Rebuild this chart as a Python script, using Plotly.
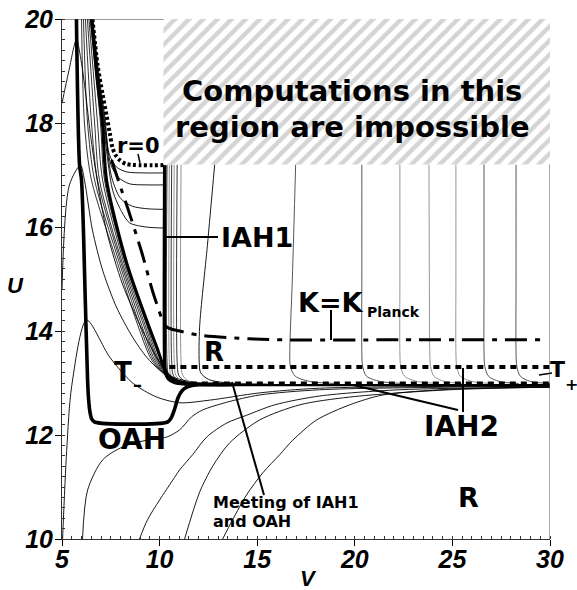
import plotly.graph_objects as go

# ---------------- data (V, U) ----------------
# thick outer apparent horizon (OAH)
OAH_V = [5.74, 5.90, 6.00, 6.20, 6.31, 6.36, 6.43, 6.52, 6.67, 10.41, 10.58, 10.77, 10.95, 11.15, 11.40, 12.05, 13.70]
OAH_U = [20.0, 17.19, 16.90, 14.50, 13.06, 12.70, 12.45, 12.31, 12.25, 12.25, 12.32, 12.50, 12.72, 12.85, 12.92, 12.97, 12.97]

# thick inner apparent horizon 1 (IAH1)
IAH1_V = [10.26, 10.26, 10.30, 10.45, 10.75, 11.30, 13.70]
IAH1_U = [17.19, 13.40, 13.20, 13.08, 13.01, 12.98, 12.97]

# thick inner apparent horizon 2 (IAH2)
IAH2_V = [13.7, 30.0]
IAH2_U = [12.96, 12.96]

# thick diagonal curve
DIAG_V = [6.51, 6.82, 7.08, 7.28, 8.31, 9.33, 9.85, 10.36, 10.77, 11.54, 13.70]
DIAG_U = [20.0, 18.79, 17.96, 16.90, 15.31, 14.21, 13.69, 13.19, 13.06, 12.98, 12.97]

# r = 0 (dotted)
R0_V = [6.56, 6.82, 7.08, 7.28, 7.45, 7.59, 7.75, 7.95, 8.31, 10.20]
R0_U = [20.0, 19.12, 18.55, 18.15, 17.80, 17.52, 17.38, 17.29, 17.21, 17.19]

# K = K_Planck (dash-dot)
K_V = [7.54, 8.05, 8.36, 9.08, 9.74, 10.36, 11.03, 12.05, 14.62, 16.31, 22.30, 29.64]
K_U = [17.29, 16.71, 16.37, 15.52, 14.65, 14.08, 14.00, 13.92, 13.85, 13.83, 13.83, 13.83]

# T+ (dotted lines)
TP_UP_V = [10.5, 30.0]
TP_UP_U = [13.31, 13.31]
TP_LO_V = [11.6, 30.0]
TP_LO_U = [12.99, 12.99]

# thin r = const contours: tent-shaped curves peaking on the OAH
T1_V = [5.00, 5.35, 5.74, 6.00, 6.20, 6.45, 6.80, 7.30, 8.10, 9.20, 10.00, 10.60, 11.50, 14.00]
T1_U = [18.38, 19.00, 19.60, 19.15, 18.60, 17.80, 16.90, 15.90, 14.90, 13.95, 13.40, 13.10, 12.99, 12.97]
T2_V = [5.00, 5.38, 5.95, 6.15, 6.56, 7.08, 7.79, 8.62, 9.33, 10.00, 10.77, 12.05, 14.00]
T2_U = [14.80, 16.81, 17.19, 16.90, 15.94, 15.17, 14.46, 13.88, 13.50, 13.25, 13.10, 13.00, 12.97]
T3_V = [5.03, 5.24, 5.50, 6.26, 7.44, 8.62, 9.85, 11.03, 12.56, 15.13, 18.20, 30.00]
T3_U = [10.00, 11.70, 12.95, 14.21, 13.50, 13.00, 12.73, 12.62, 12.67, 12.81, 12.90, 12.94]

# thin bundle between OAH and the thick diagonal
BUNDLE_U = [20.0, 18.0, 16.9, 15.3, 14.2, 13.44, 13.12, 12.99, 12.97]
B0_V = [6.00, 6.15, 6.51, 7.85, 8.80, 9.60, 10.40, 11.40, 14.0]
B1_V = [6.10, 6.31, 6.67, 7.95, 8.90, 9.68, 10.42, 11.50, 14.0]
B2_V = [6.20, 6.51, 6.82, 8.03, 9.00, 9.76, 10.44, 11.60, 14.0]
B3_V = [6.30, 6.67, 6.92, 8.10, 9.10, 9.84, 10.46, 11.70, 14.0]
B4_V = [6.38, 6.82, 7.08, 8.18, 9.18, 9.90, 10.48, 11.80, 14.0]
B5_V = [6.45, 6.97, 7.18, 8.25, 9.26, 9.96, 10.50, 11.90, 14.0]

# thin curves turning right towards IAH1
TC1_V = [6.58, 6.90, 7.20, 7.42, 7.80, 8.31, 9.20, 10.26]
TC1_U = [20.0, 18.90, 18.10, 17.40, 17.15, 17.06, 17.04, 17.04]
TC2_V = [6.56, 6.87, 7.16, 7.50, 7.90, 8.46, 9.30, 10.26]
TC2_U = [20.0, 18.90, 18.10, 17.20, 16.95, 16.83, 16.81, 16.81]
TC3_V = [6.55, 6.85, 7.13, 7.55, 8.00, 8.60, 9.40, 10.26]
TC3_U = [20.0, 18.90, 18.10, 16.95, 16.55, 16.40, 16.35, 16.34]
TC4_V = [6.54, 6.84, 7.10, 7.60, 8.05, 8.46, 9.30, 10.26]
TC4_U = [20.0, 18.90, 18.05, 16.70, 16.30, 16.08, 16.00, 15.98]

# thin near-vertical contours right of IAH1
VB_U = [17.2, 13.40, 13.15, 13.03, 12.98]
VB1_V = [10.38, 10.38, 10.46, 10.78, 11.60]
VB2_V = [10.50, 10.50, 10.58, 10.90, 11.70]
VB3_V = [10.62, 10.62, 10.70, 11.02, 11.80]
VB4_V = [10.75, 10.75, 10.83, 11.15, 11.95]
VB5_V = [10.90, 10.90, 10.98, 11.30, 12.10]
VB6_V = [11.10, 11.10, 11.18, 11.50, 12.30]
VC_V = [12.82, 12.45, 12.05, 12.03, 12.10, 12.50, 13.50, 15.50]
VC_U = [17.20, 15.65, 14.08, 13.40, 13.20, 13.07, 13.00, 12.98]

# thin vertical contours in the right part
VR_U = [17.2, 15.0, 13.6, 13.32, 13.13, 13.03, 12.99]
VR1_V = [16.97, 16.80, 16.67, 16.70, 16.95, 17.70, 19.00]
VR2_V = [20.36, 20.36, 20.36, 20.40, 20.60, 21.30, 22.50]
VR3_V = [22.31, 22.31, 22.31, 22.35, 22.55, 23.20, 24.30]
VR4_V = [23.80, 23.82, 23.84, 23.88, 24.05, 24.60, 25.60]
VR5_V = [25.18, 25.18, 25.18, 25.22, 25.40, 26.00, 27.00]
VR6_V = [26.62, 26.62, 26.62, 26.66, 26.85, 27.40, 28.40]
VR7_V = [28.26, 28.26, 28.26, 28.30, 28.48, 29.00, 30.00]

# thin contours rising from the bottom
L1_V = [6.05, 6.31, 7.08, 8.10, 9.33, 10.36, 11.03, 11.64, 12.20, 13.44, 15.13, 18.20, 24.87, 30.00]
L1_U = [10.00, 10.94, 11.52, 11.77, 11.90, 11.96, 12.10, 12.35, 12.48, 12.63, 12.77, 12.87, 12.92, 12.94]
L2_V = [8.97, 9.38, 10.00, 10.67, 11.03, 11.69, 12.41, 13.44, 14.46, 15.90, 18.20, 22.30, 30.00]
L2_U = [10.00, 10.37, 10.75, 11.13, 11.33, 11.62, 11.96, 12.23, 12.38, 12.58, 12.75, 12.87, 12.92]
L3_V = [11.28, 12.05, 12.72, 13.59, 15.13, 17.18, 19.74, 24.87, 30.00]
L3_U = [10.00, 10.90, 11.40, 11.85, 12.29, 12.58, 12.73, 12.87, 12.92]
L4_V = [13.23, 13.74, 14.46, 15.28, 16.15, 16.82, 18.05, 19.74, 21.44, 24.87, 30.00]
L4_U = [10.00, 10.37, 10.85, 11.27, 11.62, 11.90, 12.29, 12.58, 12.77, 12.88, 12.92]

# region where computations are impossible
HATCH_V = [10.2, 30.0, 30.0, 10.2, 10.2]
HATCH_U = [17.2, 17.2, 20.0, 20.0, 17.2]

X_TICKS = [5, 10, 15, 20, 25, 30]
Y_TICKS = [10, 12, 14, 16, 18, 20]

# ---------------- figure ----------------
fig = go.Figure()


def add_line(v, u, width=0.9, color="black", dash="solid", shape="spline"):
    fig.add_trace(go.Scatter(
        x=v, y=u, mode="lines", hoverinfo="skip", showlegend=False,
        line=dict(color=color, width=width, dash=dash, shape=shape,
                  smoothing=0.8 if shape == "spline" else None)))


# thin lines
for v, u in [(T1_V, T1_U), (T2_V, T2_U), (T3_V, T3_U),
             (L1_V, L1_U), (L2_V, L2_U), (L3_V, L3_U), (L4_V, L4_U),
             (TC1_V, TC1_U), (TC2_V, TC2_U), (TC3_V, TC3_U), (TC4_V, TC4_U),
             (VC_V, VC_U)]:
    add_line(v, u)
for v in [B0_V, B1_V, B2_V, B3_V, B4_V, B5_V]:
    add_line(v, BUNDLE_U, width=0.8)
for i, v in enumerate([VB1_V, VB2_V, VB3_V, VB4_V, VB5_V, VB6_V]):
    add_line(v, VB_U, color="#777777" if i % 2 else "black", width=0.8)
for i, v in enumerate([VR1_V, VR2_V, VR3_V, VR4_V, VR5_V, VR6_V, VR7_V]):
    add_line(v, VR_U, color="#8a8a8a" if i in (2, 3, 4) else "#444444", width=0.9)

# thick lines
add_line(DIAG_V, DIAG_U, width=3.2)
add_line(OAH_V, OAH_U, width=3.6, shape="spline")
add_line(IAH1_V, IAH1_U, width=3.4, shape="spline")
add_line(IAH2_V, IAH2_U, width=2.4, shape="linear")
add_line(TP_LO_V, TP_LO_U, width=4, dash="6px,5px", shape="linear")
add_line(TP_UP_V, TP_UP_U, width=4, dash="6px,5px", shape="linear")
add_line(R0_V, R0_U, width=4, dash="3px,2.5px")
add_line(K_V, K_U, width=3, dash="22px,8px,5px,8px")

# hatched region
fig.add_trace(go.Scatter(
    x=HATCH_V, y=HATCH_U, mode="lines", fill="toself", fillcolor="white",
    fillpattern=dict(shape="/", fgcolor="#a9a9a9", bgcolor="white", size=10, solidity=0.45),
    line=dict(width=0, color="white"), hoverinfo="skip", showlegend=False))

# plot area in pixels: x 62..550, y 19..539
PL, PR, PT, PB = 62, 550, 19, 539


def Q(x, y):  # pixel -> paper (plot-area) fraction
    return (x - PL) / (PR - PL), (PB - y) / (PB - PT)


LBL = dict(family="DejaVu Sans", color="black", weight="bold")


def label(text, x, y, size, anchor="left", font=None):
    px, py = Q(x, y)
    fig.add_annotation(x=px, y=py, xref="paper", yref="paper", text=text, showarrow=False,
                       xanchor=anchor, yanchor="middle", borderpad=0,
                       font=font or dict(size=size, **LBL))


label("Computations in this", 352, 91, 29, "center")
label("region are impossible", 352, 127, 29, "center")
label("r=0", 116, 146, 21)
label("IAH1", 220, 238, 27)
label("K=K", 297, 302, 27)
label("Planck", 366, 312, 14)
label("R", 203, 352, 26)
label("T", 113, 372, 26)
label("\u2013", 132, 385, 18)
label("OAH", 97, 439, 28)
label("IAH2", 423, 426, 28)
label("T", 549, 369, 22)
label("+", 564, 384, 16)
label("R", 457, 497, 27)
label("Meeting of IAH1", 212, 502, 16)
label("and OAH", 212, 521, 16)

AX = dict(family="Liberation Sans", color="black", weight="bold", style="italic")
label("U", 15, 285, 22, "center", font=dict(size=22, **AX))
label("V", 308, 578, 22, "center", font=dict(size=22, **AX))

# pointer lines and borders
for (x0, y0), (x1, y1), w in [((138, 154), (140, 163), 1.5),
                              ((165, 237), (218, 237), 2),
                              ((331, 310), (331, 340), 2),
                              ((539, 375), (552, 373), 1.5),
                              ((463, 368), (463, 412), 2),
                              ((353, 385), (458, 410), 2),
                              ((232, 382), (264, 495), 2)]:
    a, b = Q(x0, y0)
    c, d = Q(x1, y1)
    fig.add_shape(type="line", x0=a, y0=b, x1=c, y1=d, xref="paper", yref="paper",
                  line=dict(color="black", width=w))
fig.add_shape(type="line", x0=5, y0=20, x1=10.2, y1=20, xref="x", yref="y",
              line=dict(color="#333333", width=1))
fig.add_shape(type="line", x0=30, y0=10, x1=30, y1=17.2, xref="x", yref="y",
              line=dict(color="#555555", width=1))

TICKFONT = dict(family="Liberation Sans", size=25, color="black", weight="bold", style="italic")
fig.update_xaxes(range=[5, 30], tickvals=X_TICKS, ticks="outside", ticklen=6,
                 tickcolor="black", showline=True, linecolor="#333333", linewidth=1,
                 showgrid=False, zeroline=False, tickfont=TICKFONT, automargin=False,
                 ticklabelstandoff=-8,
                 minor=dict(dtick=0.5, ticks="inside", ticklen=3, tickcolor="#333333", showgrid=False))
fig.update_yaxes(range=[10, 20], tickvals=Y_TICKS, ticks="outside", ticklen=6,
                 tickcolor="black", showline=True, linecolor="#333333", linewidth=1,
                 showgrid=False, zeroline=False, tickfont=TICKFONT, automargin=False,
                 ticklabelstandoff=-3,
                 minor=dict(dtick=0.2, ticks="inside", ticklen=3, tickcolor="#333333", showgrid=False))

fig.update_layout(width=577, height=590, autosize=False,
                  margin=dict(l=PL, r=577 - PR, t=PT, b=590 - PB),
                  plot_bgcolor="white", paper_bgcolor="white", showlegend=False)

fig.write_html("out.html")
